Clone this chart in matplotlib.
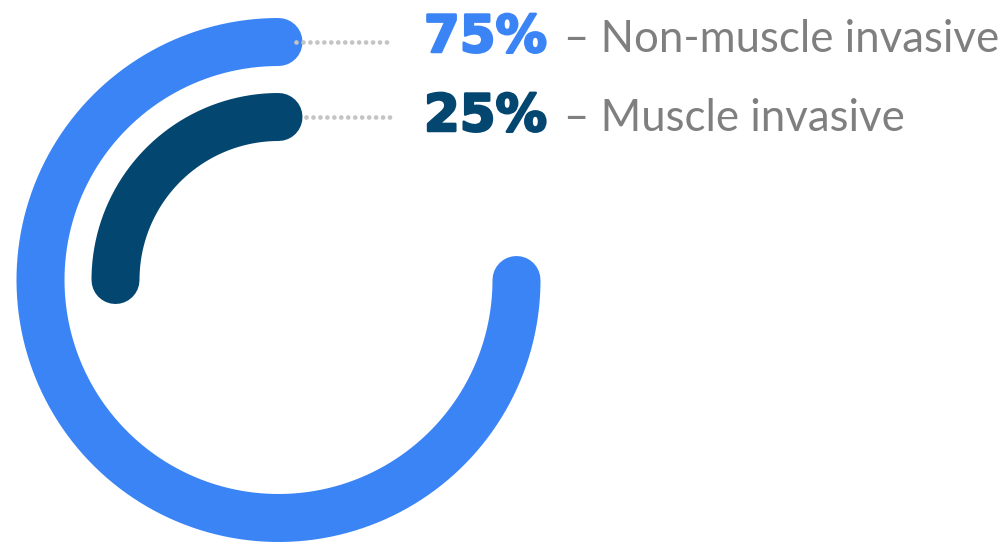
import numpy as np
import matplotlib.pyplot as plt
import matplotlib.patheffects as pe

plt.rcParams['lines.scale_dashes'] = False

labels = ['Non-muscle invasive', 'Muscle invasive']
values = [75, 25]
colors = ['#3B84F6', '#03466F']
radii = [238, 163]

cx, cy = 278.5, 280

fig = plt.figure(figsize=(10.08, 5.44), dpi=100)
ax = fig.add_axes([0, 0, 1, 1])
ax.set_xlim(0, 1008)
ax.set_ylim(544, 0)
ax.axis('off')

text_y = [52, 131]
lead_x0 = [296, 306]
for val, lab, col, r, ty, x0 in zip(values, labels, colors, radii, text_y, lead_x0):
    th = np.radians(np.linspace(90, 90 + val * 3.6, 300))
    ax.plot(cx + r * np.cos(th), cy - r * np.sin(th), color=col,
            lw=48 * 0.72, solid_capstyle='round')
    # dotted leader
    ax.plot([x0, 393], [cy - r, cy - r], color='#C4C4C4', lw=3.4,
            linestyle=(0, (0.01, 5.0)), dash_capstyle='round')
    ax.text(424, ty, f'{val}%', color=col, fontsize=37, fontweight='bold',
            family='DejaVu Sans', va='baseline', ha='left',
            path_effects=[pe.withStroke(linewidth=1.8, foreground=col)])
    ax.text(564, ty, '\u2013 ' + lab, color='#7F7F7F', fontsize=31.5,
            family='Lato', va='baseline', ha='left')

fig.savefig('out.png', dpi=100)
